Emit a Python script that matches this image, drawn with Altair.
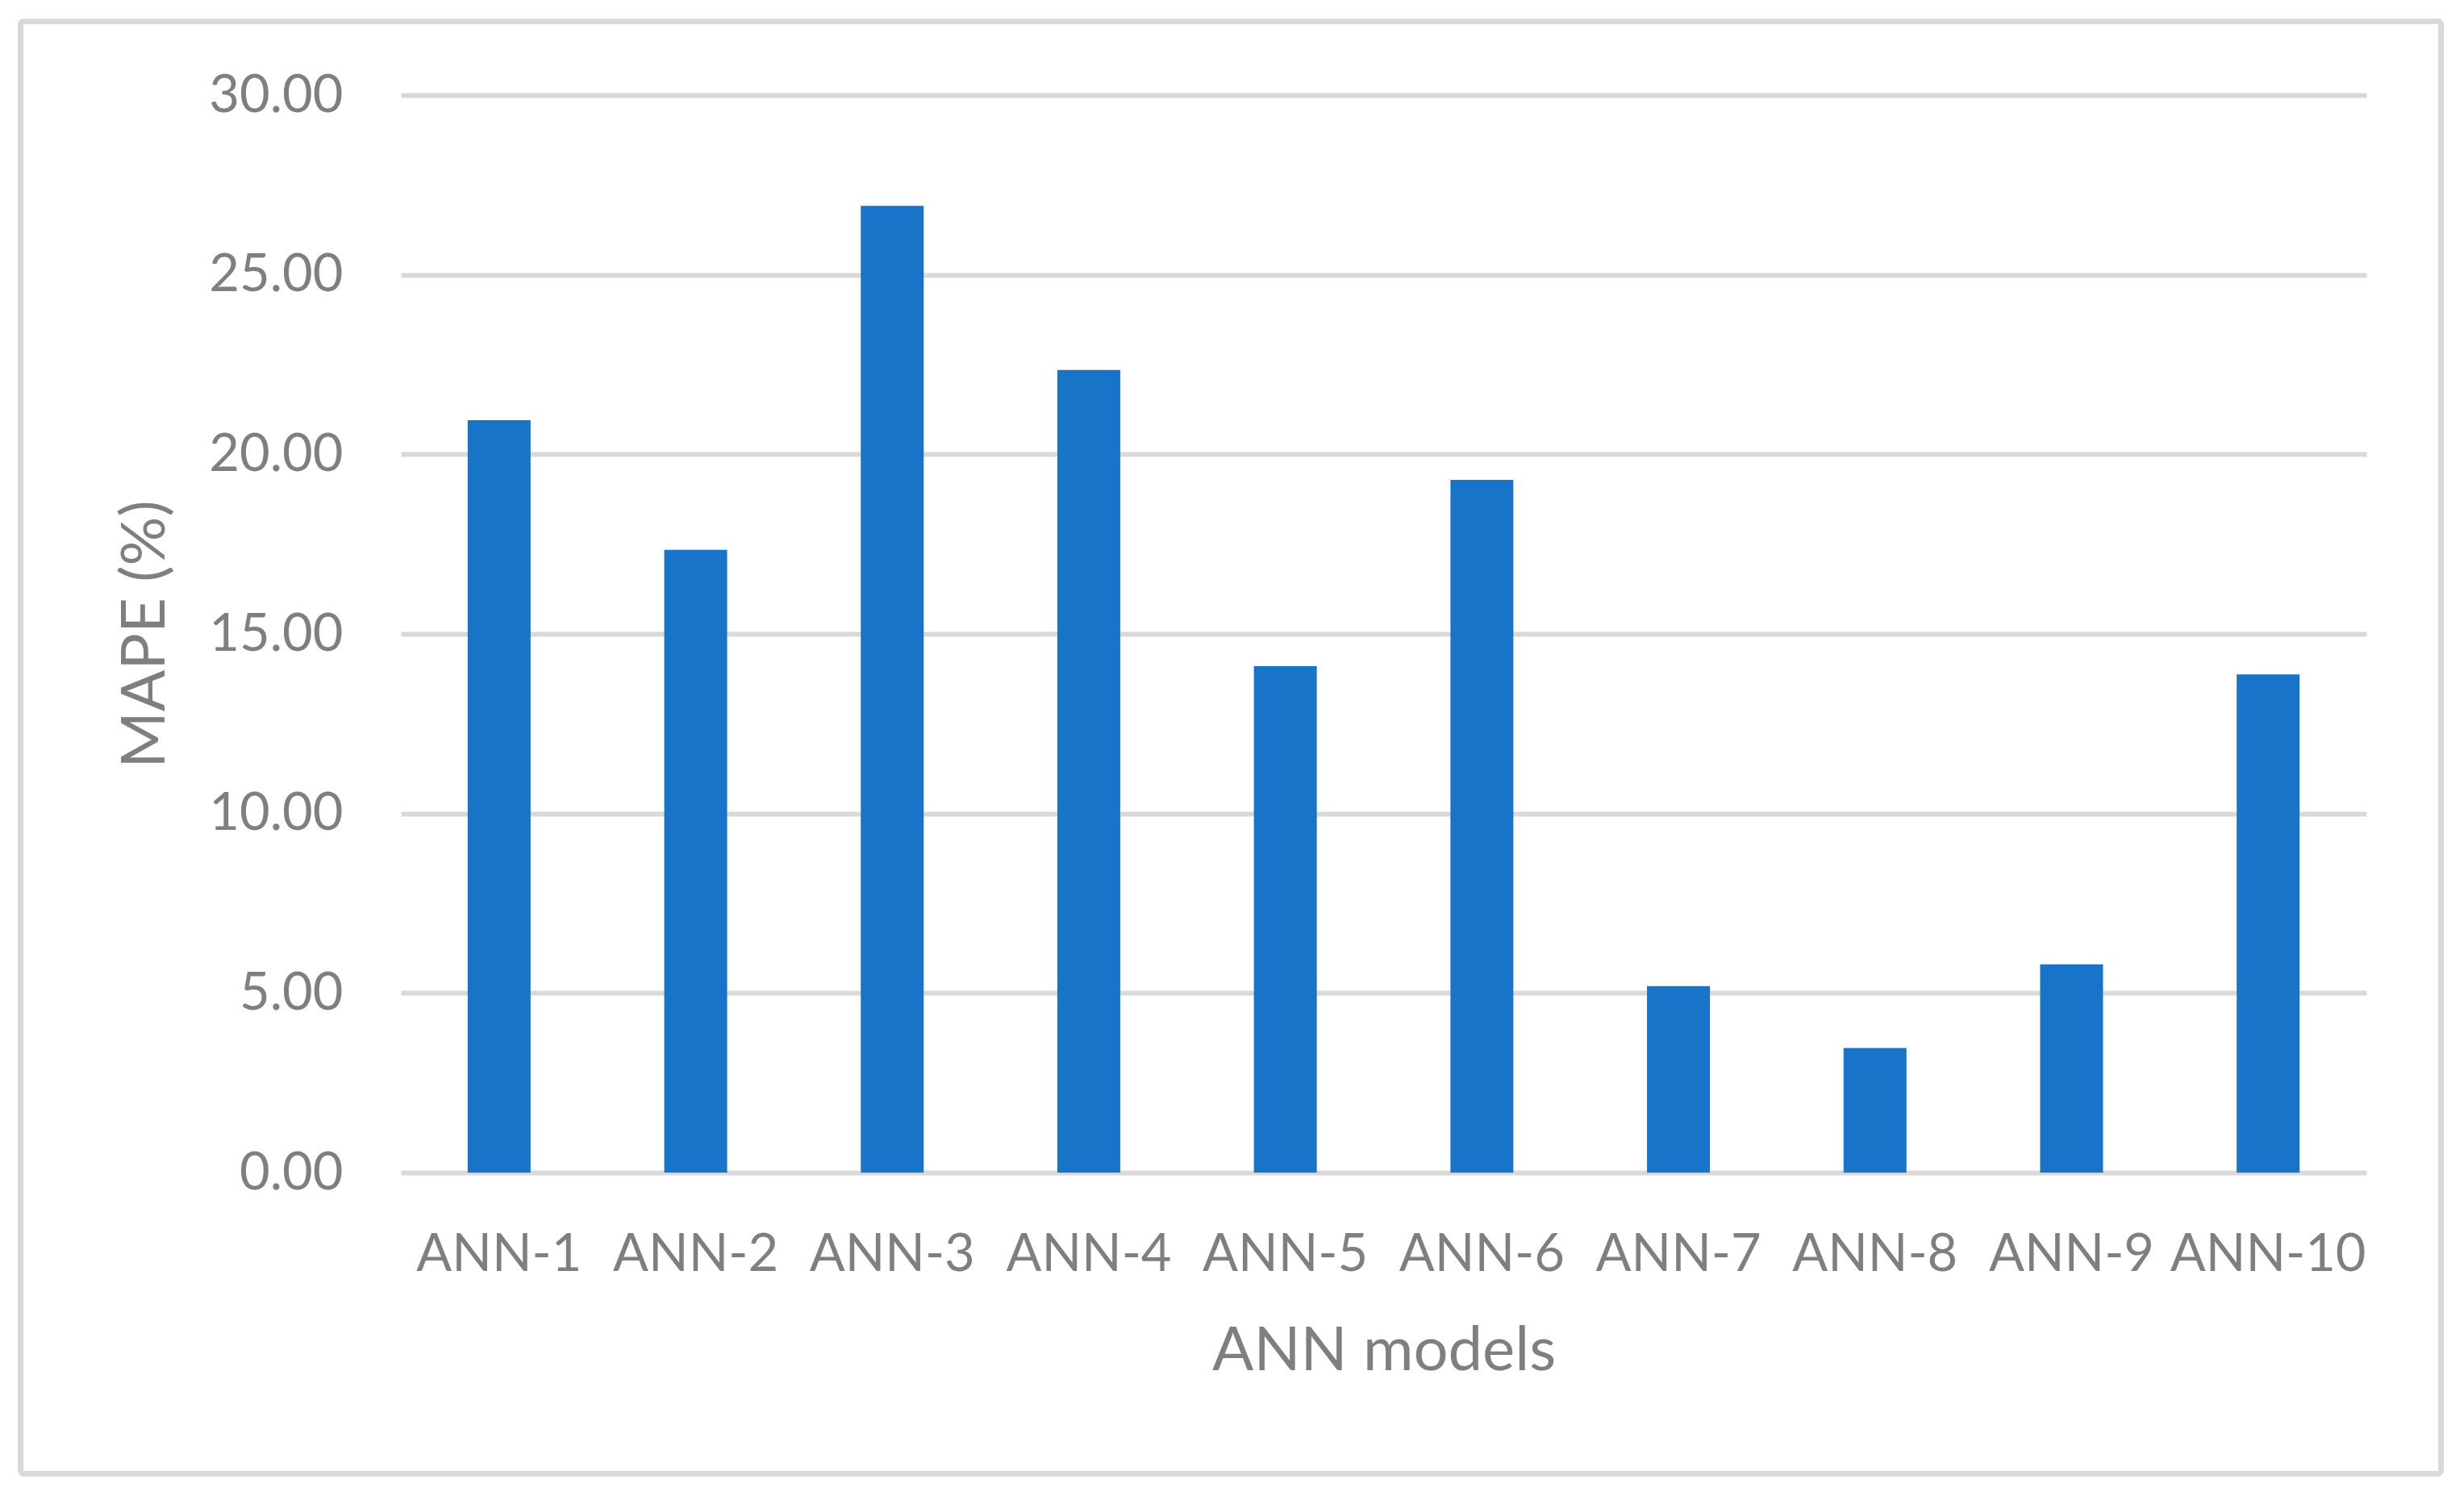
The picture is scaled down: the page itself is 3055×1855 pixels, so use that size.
import altair as alt
import pandas as pd

models = ["ANN-1", "ANN-2", "ANN-3", "ANN-4", "ANN-5",
          "ANN-6", "ANN-7", "ANN-8", "ANN-9", "ANN-10"]
mape = [20.95, 17.34, 26.92, 22.35, 14.10, 19.29, 5.19, 3.47, 5.80, 13.87]
y_ticks = [0, 5, 10, 15, 20, 25, 30]

df = pd.DataFrame({"model": models, "mape": mape})

W, H = 2437, 1336
FONT = "Lato"
GRAY = "#7f7f7f"

bars = alt.Chart(df).mark_bar(color="#1874c8").encode(
    x=alt.X(
        "model:N",
        sort=models,
        scale=alt.Scale(paddingInner=0.68, paddingOuter=0.34),
        axis=alt.Axis(
            title="ANN models", labelAngle=0, domain=False, ticks=False, tickSize=0,
            grid=False, labelFont=FONT, labelFontSize=65, labelColor=GRAY,
            labelPadding=70, labelLimit=0, labelOverlap=False,
            titleFont=FONT, titleFontSize=76, titleColor=GRAY,
            titleFontWeight="normal", titlePadding=50,
        ),
    ),
    y=alt.Y(
        "mape:Q",
        scale=alt.Scale(domain=[0, 30]),
        axis=alt.Axis(
            title="MAPE (%)", values=y_ticks, format=".2f", grid=True,
            gridColor="#d9d9d9", gridWidth=6, domain=False, ticks=False, tickSize=0,
            labelFont=FONT, labelFontSize=65, labelColor=GRAY, labelPadding=72,
            titleFont=FONT, titleFontSize=76, titleColor=GRAY,
            titleFontWeight="normal", titlePadding=78,
        ),
    ),
)

frame = alt.Chart(pd.DataFrame({"k": [0]})).mark_rect(
    fillOpacity=0, stroke="#d9d9d9", strokeWidth=7, cornerRadius=4
).encode(
    x=alt.value(-471.5), x2=alt.value(2529.5), y=alt.value(-91.5), y2=alt.value(1709.5)
)

chart = alt.layer(frame, bars).properties(
    width=W, height=H,
    autosize=alt.AutoSizeParams(type="none"),
    padding={"left": 489, "top": 110, "right": 100, "bottom": 380},
    view=alt.ViewBackground(stroke="transparent", strokeOpacity=0, strokeWidth=0),
).configure_view(stroke="transparent", strokeOpacity=0, strokeWidth=0).configure(background="white")

chart.save("out.html", embed_options={"renderer": "svg", "actions": False})
